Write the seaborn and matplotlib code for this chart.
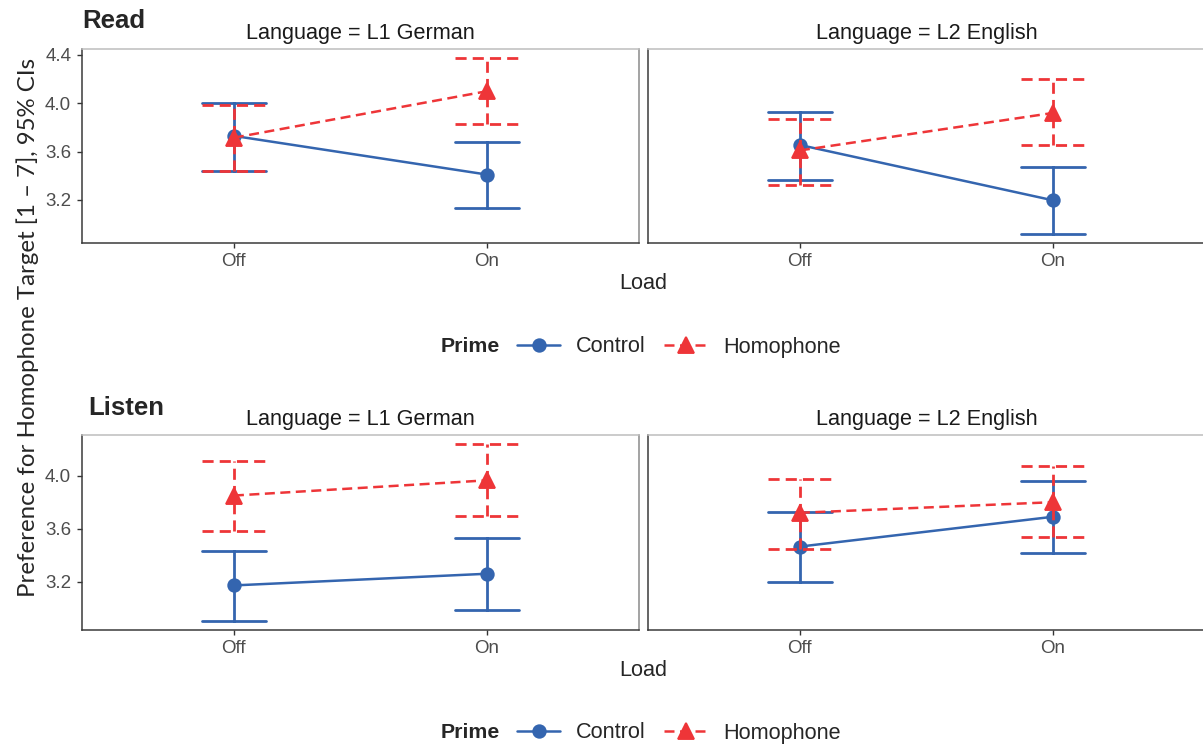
import numpy as np
import pandas as pd
import matplotlib
matplotlib.use("Agg")
import matplotlib.pyplot as plt
import seaborn as sns

# ---------------- data ----------------
loads = ["Off", "On"]
primes = ["Control", "Homophone"]
languages = ["L1 German", "L2 English"]
modalities = ["Read", "Listen"]

# Read
read_l1_control_mean = [3.73, 3.41]
read_l1_control_lo = [3.44, 3.13]
read_l1_control_hi = [4.005, 3.68]
read_l1_homophone_mean = [3.715, 4.10]
read_l1_homophone_lo = [3.44, 3.826]
read_l1_homophone_hi = [3.985, 4.376]

read_l2_control_mean = [3.655, 3.197]
read_l2_control_lo = [3.366, 2.917]
read_l2_control_hi = [3.924, 3.470]
read_l2_homophone_mean = [3.61, 3.92]
read_l2_homophone_lo = [3.32, 3.655]
read_l2_homophone_hi = [3.872, 4.199]

# Listen
listen_l1_control_mean = [3.172, 3.26]
listen_l1_control_lo = [2.9025, 2.9875]
listen_l1_control_hi = [3.435, 3.5275]
listen_l1_homophone_mean = [3.85, 3.965]
listen_l1_homophone_lo = [3.58, 3.695]
listen_l1_homophone_hi = [4.1125, 4.24]

listen_l2_control_mean = [3.465, 3.69]
listen_l2_control_lo = [3.1975, 3.415]
listen_l2_control_hi = [3.7275, 3.96]
listen_l2_homophone_mean = [3.72, 3.80]
listen_l2_homophone_lo = [3.4475, 3.535]
listen_l2_homophone_hi = [3.9775, 4.0725]

yticks_read = [3.2, 3.6, 4.0, 4.4]
yticks_listen = [3.2, 3.6, 4.0]

series = {
    ("Read", "L1 German", "Control"): (read_l1_control_lo, read_l1_control_mean, read_l1_control_hi),
    ("Read", "L1 German", "Homophone"): (read_l1_homophone_lo, read_l1_homophone_mean, read_l1_homophone_hi),
    ("Read", "L2 English", "Control"): (read_l2_control_lo, read_l2_control_mean, read_l2_control_hi),
    ("Read", "L2 English", "Homophone"): (read_l2_homophone_lo, read_l2_homophone_mean, read_l2_homophone_hi),
    ("Listen", "L1 German", "Control"): (listen_l1_control_lo, listen_l1_control_mean, listen_l1_control_hi),
    ("Listen", "L1 German", "Homophone"): (listen_l1_homophone_lo, listen_l1_homophone_mean, listen_l1_homophone_hi),
    ("Listen", "L2 English", "Control"): (listen_l2_control_lo, listen_l2_control_mean, listen_l2_control_hi),
    ("Listen", "L2 English", "Homophone"): (listen_l2_homophone_lo, listen_l2_homophone_mean, listen_l2_homophone_hi),
}

# long table: lo / mean / hi rows per cell -> median = mean, min/max = CI
rows = []
for (mod, lang, prime), (lo, mean, hi) in series.items():
    for i, load in enumerate(loads):
        for v in (lo[i], mean[i], hi[i]):
            rows.append(dict(Modality=mod, Language=lang, Prime=prime, Load=load, value=v))
df = pd.DataFrame(rows)

# ---------------- style ----------------
sns.set_style("white")
plt.rcParams["font.family"] = ["Liberation Sans", "DejaVu Sans"]

BLUE = "#3465AF"
RED = "#EE3538"
colors = {"Control": BLUE, "Homophone": RED}
markers = {"Control": "o", "Homophone": "^"}
linestyles = {"Control": "-", "Homophone": (0, (4.0, 2.2))}
msizes = {"Control": 9, "Homophone": 12}

W, H = 1203, 747
fig = plt.figure(figsize=(W / 100, H / 100), dpi=100)

def fx(px):
    return px / W

def fy(py):
    return 1 - py / H

row_px = {"Read": (49, 243), "Listen": (435, 630)}
col_px = [(82, 639), (648, 1205)]
yticks = {"Read": yticks_read, "Listen": yticks_listen}

TICK_COL = "#4D4D4D"
for mod in modalities:
    top, bot = row_px[mod]
    sub_mod = df[df.Modality == mod]
    vmin, vmax = sub_mod.value.min(), sub_mod.value.max()
    rng = vmax - vmin
    ylim = (vmin - 0.05 * rng, vmax + 0.05 * rng)
    for c, lang in enumerate(languages):
        l, r = col_px[c]
        ax = fig.add_axes([fx(l), fy(bot), fx(r - l), (bot - top) / H])
        for prime in primes:
            sub = sub_mod[(sub_mod.Language == lang) & (sub_mod.Prime == prime)]
            sns.pointplot(
                data=sub, x="Load", y="value", order=loads,
                estimator="median", errorbar=lambda v: (v.min(), v.max()),
                color=colors[prime], markers=markers[prime],
                linestyles=linestyles[prime], capsize=0.25,
                err_kws={"linewidth": 2.0, "linestyle": linestyles[prime]},
                linewidth=1.8, markersize=msizes[prime], label=prime, ax=ax,
            )
        if c == 0:
            handles, labels = ax.get_legend_handles_labels()
        if ax.get_legend() is not None:
            ax.get_legend().remove()
        ax.set_xlim(-0.6, 1.6)
        ax.set_ylim(*ylim)
        ax.set_yticks(yticks[mod])
        ax.set_yticklabels([f"{t:.1f}" for t in yticks[mod]])
        ax.set_xlabel("")
        ax.set_ylabel("")
        ax.set_title(f"Language = {lang}", fontsize=15.6, pad=7, color="#1A1A1A")
        for side in ("left", "bottom"):
            ax.spines[side].set_color("#3A3A3A")
            ax.spines[side].set_linewidth(1.1)
        ax.spines["top"].set_color("#BDBDBD")
        ax.spines["right"].set_color("#8A8A8A")
        for side in ("top", "right"):
            ax.spines[side].set_linewidth(1.1)
        ax.tick_params(axis="both", length=3.8, width=1.0, color="#333333",
                       labelcolor=TICK_COL, labelsize=13.5)
        ax.tick_params(axis="x", bottom=True, pad=3.3)
        ax.tick_params(axis="y", left=True, pad=4)
        if c == 1:
            ax.tick_params(axis="y", left=False, labelleft=False)

    # x label, panel tag, legend for this row
    load_y = {"Read": 283, "Listen": 670}[mod]
    fig.text(fx(643), fy(load_y), "Load", ha="center", va="center", fontsize=15.6)
    tag_x = {"Read": 82, "Listen": 88}[mod]
    tag_y = {"Read": 21, "Listen": 408}[mod]
    fig.text(fx(tag_x), fy(tag_y), mod, ha="left", va="center", fontsize=18.5, fontweight="bold")
    leg_y = {"Read": 347, "Listen": 733}[mod]
    fig.text(fx(441), fy(leg_y), "Prime", ha="left", va="center", fontsize=15.3, fontweight="bold")
    fig.legend(handles, labels, loc="center left", bbox_to_anchor=(fx(517), fy(leg_y)),
               ncol=2, frameon=False, fontsize=15.6, handlelength=2.0,
               handletextpad=0.72, columnspacing=0.85, borderpad=0, borderaxespad=0)

fig.text(fx(28), fy(327), "Preference for Homophone Target [1 \u2013 7], 95% CIs",
         rotation=90, ha="center", va="center", fontsize=17.3,
         family=["Lato", "DejaVu Sans"])

fig.savefig("out.png", dpi=100)
